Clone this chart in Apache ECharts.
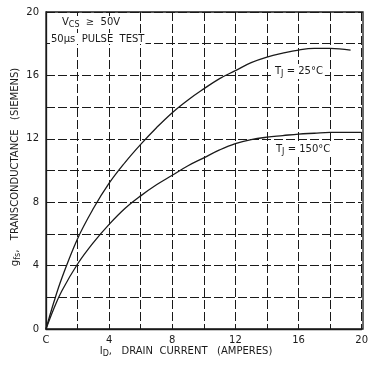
<!DOCTYPE html>
<html>
<head>
<meta charset="utf-8">
<script src="https://cdn.jsdelivr.net/npm/echarts@6/dist/echarts.min.js"></script>
<style>
  html, body { margin: 0; padding: 0; background: #fff; }
  #chart { width: 371px; height: 367px; }
</style>
</head>
<body>
<div id="chart"></div>
<script>
// Forward transconductance vs. drain current, two junction temperatures
const drainCurrent25 = [0, 0.5, 1, 2, 3, 4, 5, 6, 7, 8, 9, 10, 11, 12, 13, 14, 15, 16, 17, 18, 19.3];
const gfs25 = [0, 1.7, 3.2, 5.7, 7.6, 9.2, 10.5, 11.65, 12.7, 13.65, 14.45, 15.15, 15.8, 16.3, 16.8, 17.15, 17.4, 17.6, 17.7, 17.7, 17.6];
const drainCurrent150 = [0, 0.5, 1, 2, 3, 4, 5, 6, 7, 8, 9, 10, 11, 12, 13, 14, 15, 16, 17, 18, 19, 20];
const gfs150 = [0, 1.3, 2.4, 4.1, 5.45, 6.6, 7.6, 8.4, 9.1, 9.7, 10.3, 10.8, 11.3, 11.7, 11.95, 12.1, 12.2, 12.3, 12.35, 12.4, 12.4, 12.4];
const xTicks = ['C', '4', '8', '12', '16', '20'];
const yTicks = ['0', '4', '8', '12', '16', '20'];

const ink = '#1a1a1a';
const font = '"DejaVu Sans", sans-serif';

// rich-text styles for a main run plus a subscript
const subRich = (size) => ({
  m: { fontFamily: font, fontSize: size, fill: ink },
  s: { fontFamily: font, fontSize: size - 2, fill: ink, padding: [5, 0, 0, 0] }
});

const chart = echarts.init(document.getElementById('chart'));
chart.setOption({
  backgroundColor: '#fff',
  animation: false,
  grid: { left: 46, right: 8, top: 12, bottom: 38 },
  xAxis: {
    type: 'value', min: 0, max: 20, interval: 2,
    axisLine: { show: true, lineStyle: { color: ink, width: 1.3 } },
    axisTick: { show: false },
    axisLabel: {
      color: ink, fontFamily: font, fontSize: 10, margin: 6,
      formatter: v => (v % 4 === 0 ? xTicks[v / 4] : '')
    },
    splitLine: { show: true, lineStyle: { color: ink, width: 1, type: [9, 3] } }
  },
  yAxis: {
    type: 'value', min: 0, max: 20, interval: 2,
    axisLine: { show: true, lineStyle: { color: ink, width: 1.3 } },
    axisTick: { show: false },
    axisLabel: {
      color: ink, fontFamily: font, fontSize: 10, margin: 7,
      formatter: v => (v % 4 === 0 ? yTicks[v / 4] : '')
    },
    splitLine: { show: true, lineStyle: { color: ink, width: 1, type: [9, 3] } }
  },
  graphic: [
    { type: 'rect', shape: { x: 46, y: 12, width: 317, height: 317 },
      style: { fill: 'none', stroke: ink, lineWidth: 1.3 }, silent: true, z: 10 },
    { type: 'text', left: 60, top: 16, z: 20,
      style: { text: '{m|V}{s|CS}{m|  ≥  50V}', backgroundColor: '#fff', padding: [0, 2], rich: subRich(10) } },
    { type: 'text', left: 50, top: 34, z: 20,
      style: { text: '50µs  PULSE  TEST', fill: ink, font: '10px "DejaVu Sans", sans-serif', backgroundColor: '#fff', padding: [0, 1] } },
    { type: 'text', left: 273, top: 64, z: 20,
      style: { text: '{m|T}{s|J}{m| = 25°C}', backgroundColor: '#fff', padding: [1, 2], rich: subRich(10) } },
    { type: 'text', left: 274, top: 142, z: 20,
      style: { text: '{m|T}{s|J}{m| = 150°C}', backgroundColor: '#fff', padding: [1, 2], rich: subRich(10) } },
    { type: 'text', x: 15, y: 167, rotation: Math.PI / 2, z: 20,
      style: { text: '{m|g}{s|fs}{m|,   TRANSCONDUCTANCE   (SIEMENS)}', align: 'center', verticalAlign: 'middle', rich: subRich(10) } },
    { type: 'text', x: 186, y: 351, z: 20,
      style: { text: '{m|I}{s|D}{m|,   DRAIN  CURRENT   (AMPERES)}', align: 'center', verticalAlign: 'middle', rich: subRich(10) } }
  ],
  series: [
    { name: 'TJ = 25°C', type: 'line', smooth: 0.4, showSymbol: false, z: 15,
      lineStyle: { color: ink, width: 1.3 },
      data: drainCurrent25.map((x, i) => [x, gfs25[i]]) },
    { name: 'TJ = 150°C', type: 'line', smooth: 0.4, showSymbol: false, z: 15,
      lineStyle: { color: ink, width: 1.3 },
      data: drainCurrent150.map((x, i) => [x, gfs150[i]]) }
  ]
});
</script>
</body>
</html>
